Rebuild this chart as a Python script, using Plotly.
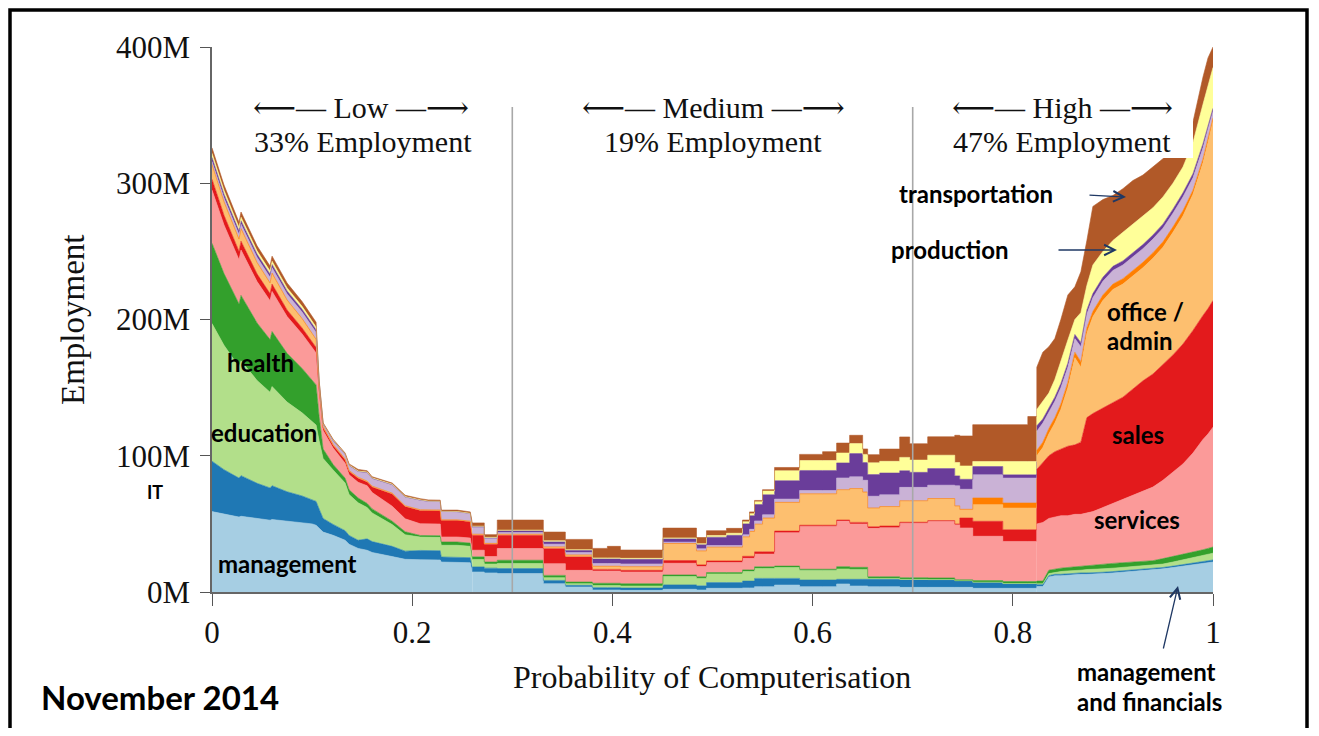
import plotly.graph_objects as go

# ---------------- data (employment in millions, stacked by occupation) ----------------
X = [0, 0.012, 0.027, 0.029, 0.045, 0.058, 0.06, 0.075, 0.09, 0.1, 0.104, 0.107, 0.111, 0.121,
     0.133, 0.137, 0.146, 0.155, 0.16, 0.18, 0.193, 0.208, 0.216, 0.228, 0.229, 0.245, 0.258,
     0.26, 0.272, 0.285, 0.331, 0.353, 0.38, 0.395, 0.408, 0.4505, 0.484, 0.494, 0.514, 0.53,
     0.537, 0.542, 0.55, 0.562, 0.587, 0.61, 0.624, 0.637, 0.65, 0.655, 0.667, 0.687, 0.697,
     0.715, 0.742, 0.747, 0.76, 0.79, 0.815,
     0.824, 0.83, 0.836, 0.842, 0.848, 0.855, 0.862, 0.868, 0.874, 0.88, 0.89, 0.9, 0.91, 0.92,
     0.93, 0.94, 0.95, 0.96, 0.97, 0.98, 0.99, 0.995, 1.0]

MANAGEMENT = [59, 57, 55, 55.6, 53.8, 52.7, 53.2, 51.8, 50.8, 50, 49, 47, 44, 41.6, 38, 35, 32, 30.6, 29, 26, 24, 23.7, 23.7, 23.5, 22, 22, 21.5,
              14.7, 14, 13.5, 6.1, 3.7, 1.5, 1.5, 1.2, 2, 1.5, 2.7, 2.7, 3, 3, 3.9, 3.9, 5.1, 3.9, 3.9, 5.9, 4.4, 4.4, 3.9, 3.9, 3.4, 3.4, 3.4, 3.4, 3.4, 2.7, 2.7, 2.7,
              4, 4, 11, 12, 12, 12.5, 12.5, 13, 13, 13, 13.5, 14, 14.5, 15, 15.5, 16, 17, 18, 19, 20, 21, 21.5, 22]
COMPUTER_ENG = [37, 32.8, 28.6, 29.8, 26, 23.7, 24.8, 21.8, 19.7, 18, 17.5, 14, 10, 8, 7, 6.5, 6, 8.4, 8, 7.5, 6, 6.8, 6.8, 6.8, 3.7, 3.7, 3.7,
                3.7, 3.5, 3.7, 2.4, 1.2, 1.7, 1.7, 1.7, 3.2, 3, 4.2, 4.2, 5, 5, 6.1, 6.1, 4.9, 4.9, 4.9, 3.4, 4.9, 4.9, 5.4, 5.4, 5.4, 5.4, 5.4, 4.6, 4.6, 4.2, 3.2, 3.2,
                1.5, 1.5, 1, 1, 1, 1, 1, 1, 1, 1, 1, 1, 1, 1, 1, 1, 1, 1, 1, 1, 1, 1.2, 1.5]
EDUCATION = [101, 91.3, 81.6, 84.3, 75.5, 70.2, 72.8, 65.8, 61, 57, 56, 50, 44, 40, 35, 30, 27.5, 23, 21, 16, 12, 9.8, 9.8, 9.8, 8.6, 8.6, 8.3,
             5.4, 3, 3.7, 2, 1.2, 1.5, 1.5, 1.5, 6.1, 5.5, 6.4, 6.4, 7, 7, 7.3, 7.3, 8, 6.9, 6.9, 7.6, 7.3, 7.3, 0.7, 0.7, 0.5, 0.5, 0.3, 0.3, 0.3, 0.3, 0.3, 0.3,
             0.5, 0.5, 1.5, 1.5, 2, 2, 2, 2, 2.5, 2.5, 2.5, 2.5, 2.5, 2.5, 2.5, 2.5, 2.5, 3, 3.5, 4, 4.5, 4.6, 5]
HEALTH = [59, 52.6, 46.2, 48, 42.2, 38.7, 40.4, 35.8, 32.6, 30, 29.5, 18, 7, 4, 3.5, 3.5, 3.5, 3, 3, 2.5, 2.2, 1.2, 1.2, 1.2, 2.4, 2.4, 2.4,
          2, 1.5, 2.4, 1.7, 1.2, 1.7, 1.7, 1.7, 1.2, 1.2, 1, 1, 1.2, 1.2, 1.2, 1.2, 1, 1, 1, 1.7, 1.5, 1.5, 1.2, 1.2, 1.2, 1.2, 1.2, 0.7, 0.7, 1.2, 1.5, 1.5,
          2, 2, 2.5, 2.5, 2.5, 2.5, 3, 3, 3, 3.5, 3.5, 3.5, 3.5, 3.5, 3.5, 3.5, 4, 4, 4, 4, 4.5, 4.7, 4.5]
SERVICE = [39, 35.7, 32.4, 33.3, 30.3, 28.5, 29.4, 27, 25.3, 24, 23.5, 17, 13.5, 12, 11, 11, 11.5, 13, 12, 11, 9.5, 8.6, 8.6, 8.6, 3.7, 3.7, 3.7,
           4.9, 4, 8.6, 8.6, 8.6, 9, 9, 8.6, 8.6, 7.5, 7.3, 7.3, 8.5, 8.5, 9.3, 9.3, 24.5, 31.3, 31.3, 33.5, 31.8, 31.8, 35.5, 36, 40, 40, 41.6, 40.4, 38, 32.5, 29.4, 29.4,
           42, 43, 38, 38, 38.5, 38, 38.5, 38, 38.5, 39, 41.5, 44, 46.5, 49, 51.5, 54, 57.5, 62, 66.5, 73, 81, 84, 88]
SALES = [8, 7.1, 6.2, 6.5, 5.7, 5.2, 5.4, 4.8, 4.4, 4, 4, 3, 2, 2, 2.5, 2.5, 3, 2.7, 4, 9, 9, 9.8, 9.8, 9.8, 12.2, 12.2, 12,
         11, 9, 9.8, 11, 9.8, 1.2, 1.2, 1.2, 2, 1.2, 1.2, 1.2, 1.5, 1.5, 1.7, 1.7, 1.2, 1, 1, 0.7, 1.2, 1.2, 1.2, 1.2, 0.7, 0.7, 0.5, 0.5, 7.3, 11, 8.6, 8.6,
         40, 44, 46, 48, 49, 51, 51, 53, 70, 72, 73, 74, 75, 78, 81, 83, 85, 86, 88, 90, 91, 92, 93]
OFFICE_ADMIN = [10, 9.1, 8.2, 8.5, 7.7, 7.2, 7.4, 6.8, 6.4, 6, 5.5, 2.5, 0.8, 0.6, 0.5, 0.5, 0.5, 0.5, 0.5, 0.4, 0.4, 0.3, 0.3, 0.3, 0.3, 0.3, 0.3,
                0.5, 0.5, 0.5, 1, 1.2, 2, 2, 2.4, 12.2, 10, 9.8, 9.8, 14, 18, 20, 24.5, 20.8, 22.8, 22.8, 22, 24.5, 22, 13.5, 14, 15.5, 15.5, 15.9, 13, 6.1, 12.2, 15.9, 15.9,
                10, 11, 16, 21, 29, 43, 64, 55, 62, 71, 79, 83, 83, 83, 83, 85, 86, 90, 94, 100, 112, 122, 132]
FARMING = [1, 0.9, 0.8, 0.8, 0.7, 0.65, 0.7, 0.6, 0.55, 0.5, 0.5, 0.3, 0.2, 0.2, 0.2, 0.2, 0.2, 0.2, 0.2, 0.2, 0.2, 0.2, 0.2, 0.2, 0.1, 0.1, 0.1,
           0.2, 0.2, 0.2, 0.3, 0.3, 0.3, 0.3, 0.3, 0.3, 0.3, 0.3, 0.3, 0.3, 0.3, 0.3, 0.3, 0.3, 0.3, 0.3, 0.3, 0.3, 0.3, 0.3, 0.3, 0.3, 0.3, 0.3, 0.3, 0.3, 4.9, 3.7, 3.7,
           4, 4, 4, 4, 4, 4, 4, 4, 4, 4, 4, 4, 4, 4, 4, 4, 4, 4, 4, 3, 3, 3, 2]
CONSTRUCTION = [2, 2.7, 3.3, 3.1, 3.7, 4.1, 3.9, 4.4, 4.7, 5, 5, 2.2, 1.5, 2.4, 3, 3.5, 4, 6.1, 5.5, 6, 6.2, 6.8, 6, 6, 6, 5.8, 5.5,
                4.9, 3.5, 1.3, 2, 1.7, 2, 2, 2, 1, 1.5, 1.2, 1.2, 1.5, 1.5, 2.4, 2.4, 2.4, 2.4, 2.4, 8.6, 8.6, 8.6, 8.6, 8.6, 9.8, 9.8, 9.8, 14.7, 14.7, 17, 18.3, 18.3,
                14, 14, 12, 12, 12, 11, 10, 11, 10, 10, 10, 10, 10, 10, 10, 10, 10, 10, 10, 9, 8, 7, 5]
INSTALLATION = [3, 2.8, 2.6, 2.6, 2.4, 2.3, 2.4, 2.2, 2.1, 2, 2, 0.6, 0.4, 0.5, 0.4, 0.3, 0.3, 0.3, 0.3, 0.3, 0.3, 0.3, 0.2, 0.2, 0.2, 0.2, 0.2,
                0.7, 0.6, 1.2, 1.7, 1.7, 3.4, 3.4, 3.4, 2.4, 3, 6.1, 7.5, 8, 10, 12, 14.7, 13.5, 14.7, 14.7, 11, 17.1, 13, 15.9, 16, 12.2, 11, 12.2, 7.3, 7.3, 6.1, 2.4, 2.4,
                4, 3, 3, 3, 3, 3, 3, 3, 3, 3, 3, 3, 3, 3, 3, 3, 3, 3, 3, 3, 3, 2, 2]
PRODUCTION = [3, 2.8, 2.6, 2.6, 2.4, 2.3, 2.4, 2.2, 2.1, 2, 2, 0.4, 0.3, 0.3, 0.3, 0.3, 0.3, 0.3, 0.3, 0.3, 0.3, 0.2, 0.2, 0.2, 0.1, 0.1, 0.1,
              0.3, 0.3, 0.5, 0.8, 0.5, 0.7, 0.7, 0.7, 0.7, 0.8, 1.2, 1.5, 1.5, 1.5, 2, 2.7, 7.3, 7.3, 7.3, 7.3, 7.3, 6, 8.6, 8.6, 9.8, 9, 9.8, 9.8, 9.8, 3.7, 9.8, 9.8,
              12, 13, 11, 13, 17, 17, 11, 22, 18, 21, 19, 19, 21, 21, 21, 20, 20, 19, 19, 23, 29, 30, 30]
TRANSPORTATION = [4, 3.9, 3.8, 3.8, 3.7, 3.65, 3.7, 3.6, 3.55, 3.5, 3.5, 0.5, 0.5, 0.5, 0.6, 0.7, 1.2, 0.9, 0.8, 0.8, 0.9, 0.8, 0.8, 0.8, 0.8, 1, 1,
                  2.4, 2, 7.4, 6.4, 7.5, 7, 8.5, 6.1, 7.2, 4.5, 3.6, 3.6, 1.3, 1.3, 1, 1, 2.4, 4.5, 6.5, 7.3, 6.1, 4, 6, 9, 15, 12, 13.5, 20, 22, 27, 27, 33,
                  31, 36, 34, 30, 30, 33, 24, 30, 33, 43, 38, 33, 32, 32, 30, 30, 28, 24, 20, 15, 20, 20, 15]

SERIES_NAMES = ["Management, Business, and Financial", "Computer, Engineering, and Science",
                "Education, Legal, Community Service, Arts, and Media", "Healthcare Practitioners and Technical",
                "Service", "Sales and Related", "Office and Administrative Support", "Farming, Fishing, and Forestry",
                "Construction and Extraction", "Installation, Maintenance, and Repair", "Production",
                "Transportation and Material Moving"]
SERIES_VALUES = [MANAGEMENT, COMPUTER_ENG, EDUCATION, HEALTH, SERVICE, SALES, OFFICE_ADMIN, FARMING,
                 CONSTRUCTION, INSTALLATION, PRODUCTION, TRANSPORTATION]
COLORS = ["#a6cee3", "#1f78b4", "#b2df8a", "#33a02c", "#fb9a99", "#e31a1c",
          "#fdbf6f", "#ff7f00", "#cab2d6", "#6a3d9a", "#ffff99", "#b15928"]

X_TICKS = [0, 0.2, 0.4, 0.6, 0.8, 1]
X_TICK_TEXT = ["0", "0.2", "0.4", "0.6", "0.8", "1"]
Y_TICKS = [0, 100, 200, 300, 400]
Y_TICK_TEXT = ["0M", "100M", "200M", "300M", "400M"]
BOUNDARIES = [0.3, 0.7]
BAND_TOP = 356

# ---------------- figure ----------------
# the page body has an 8px margin, so the figure is sized to fit inside it
OFF = 8
W, H = 1319 - 2 * OFF, 736 - 2 * OFF
PX0, PX1, PY0, PY1 = 212, 1213, 47, 592          # plot area in page pixels
L, T = PX0 - OFF, PY0 - OFF
R, B = W - (PX1 - OFF), H - (PY1 - OFF)
PW, PH = PX1 - PX0, PY1 - PY0


def P(px, py):
    """page pixel -> paper coords"""
    return (px - PX0) / PW, (PY1 - py) / PH


SERIF = "Liberation Serif, Times New Roman, DejaVu Serif, serif"
SANS = "Lato, Noto Sans, sans-serif"

fig = go.Figure()

segments = [("a", "linear", lambda x: x <= 0.26),
            ("b", "hv", lambda x: 0.26 <= x <= 0.824),
            ("c", "linear", lambda x: x >= 0.824)]

for gname, shape, sel in segments:
    idx = [i for i, x in enumerate(X) if sel(x)]
    xs = [X[i] for i in idx]
    for name, vals, col in zip(SERIES_NAMES, SERIES_VALUES, COLORS):
        fig.add_trace(go.Scatter(
            x=xs, y=[vals[i] for i in idx], name=name, mode="lines",
            stackgroup=gname, line=dict(width=0.6, color=col, shape=shape),
            fillcolor=col, hoverinfo="skip", showlegend=False))

shapes = []
for b in BOUNDARIES:
    shapes.append(dict(type="line", xref="x", yref="y", x0=b, x1=b, y0=0, y1=BAND_TOP,
                       line=dict(color="#a8a8a8", width=1.6), layer="above"))
# white backing box behind the "High" label
bx0, by0 = P(938, 96)
bx1, by1 = P(1193, 158)
shapes.append(dict(type="rect", xref="paper", yref="paper", x0=bx0, x1=bx1, y0=by1, y1=by0,
                   fillcolor="white", line=dict(width=0), layer="above"))
# outer frame
fx0, fy0 = P(10, 10)
fx1, fy1 = P(1307, 760)
shapes.append(dict(type="rect", xref="paper", yref="paper", x0=fx0, x1=fx1, y0=fy1, y1=fy0,
                   line=dict(color="black", width=3.5), fillcolor="rgba(0,0,0,0)", layer="above"))

ann = []


def text(t, px, py, size, family, color="#111", bold=False, xanchor="center", angle=0):
    x, y = P(px, py)
    ann.append(dict(text=("<b>%s</b>" % t) if bold else t, x=x, y=y, xref="paper", yref="paper",
                    showarrow=False, xanchor=xanchor, yanchor="middle", textangle=angle,
                    font=dict(size=size, family=family, color=color)))


def arrow(tail, head):
    x, y = P(*head)
    ann.append(dict(text="", x=x, y=y, xref="paper", yref="paper", showarrow=True,
                    ax=tail[0] - head[0], ay=tail[1] - head[1], axref="pixel", ayref="pixel",
                    arrowhead=5, arrowsize=1.6, arrowwidth=1.3, arrowcolor="#1f3864", standoff=0))


# band headers
HS = 30
text("⟵— Low —⟶", 361, 107.5, HS, SERIF)
text("33% Employment", 363, 141, HS, SERIF)
text("⟵— Medium —⟶", 713, 107.5, HS, SERIF)
text("19% Employment", 713, 141, HS, SERIF)
text("⟵— High —⟶", 1062, 107.5, HS, SERIF)
text("47% Employment", 1062, 141, HS, SERIF)

# axis titles
text("Probability of Computerisation", 712, 677, 32, SERIF)
text("Employment", 73, 320, 33, SERIF, angle=-90)

# occupation labels
LS = 24
text("health", 260, 362, LS, SANS, "black", True)
text("education", 264, 433, LS, SANS, "black", True)
text("IT", 155, 492, 18, SANS, "black", True)
text("management", 287, 563, LS, SANS, "black", True)
text("transportation", 976, 193, LS, SANS, "black", True)
text("production", 950, 249, LS, SANS, "black", True)
text("office /", 1105, 311, LS, SANS, "black", True, xanchor="left")
text("admin", 1105, 341, LS, SANS, "black", True, xanchor="left")
text("sales", 1138, 434, LS, SANS, "black", True)
text("services", 1137, 519, LS, SANS, "black", True)
text("management", 1146, 671, LS, SANS, "black", True)
text("and financials", 1149, 701, LS, SANS, "black", True)
text("November 2014", 160, 697, 33, SANS, "black", True)

arrow((1088, 195), (1126, 197))
arrow((1057, 250), (1117, 250))
arrow((1163, 650), (1178, 586))

fig.update_layout(
    width=W, height=H, margin=dict(l=L, r=R, t=T, b=B, pad=0),
    paper_bgcolor="white", plot_bgcolor="white", showlegend=False,
    shapes=shapes, annotations=ann,
    xaxis=dict(range=[0, 1], tickvals=X_TICKS, ticktext=X_TICK_TEXT, ticks="outside", ticklen=12,
               tickwidth=1.3, tickcolor="#555", showline=True, linecolor="#666", linewidth=1.5,
               showgrid=False, zeroline=False, ticklabelstandoff=0,
               tickfont=dict(family=SERIF, size=31, color="#111")),
    yaxis=dict(range=[0, 400], tickvals=Y_TICKS, ticktext=Y_TICK_TEXT, ticks="outside", ticklen=10,
               tickwidth=1.3, tickcolor="#555", showline=True, linecolor="#666", linewidth=1.5,
               showgrid=False, zeroline=False, ticklabelstandoff=4,
               tickfont=dict(family=SERIF, size=31, color="#111")),
)

fig.write_html("out.html")
